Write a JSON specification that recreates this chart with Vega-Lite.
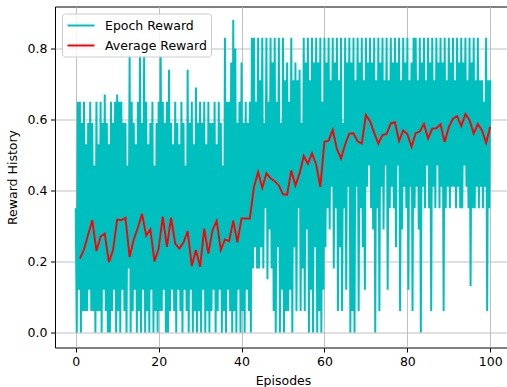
{
"$schema":"https://vega.github.io/schema/vega-lite/v6.json",
"width":456,"height":341,
"autosize":{"type":"none"},
"padding":{"left":55,"top":6.5,"right":0,"bottom":40},
"background":"white",
"config":{
"font":"DejaVu Sans",
"view":{"stroke":"black","strokeWidth":1},
"axis":{"domain":false,"grid":true,"gridColor":"#b0b0b0","gridWidth":0.8,"tickColor":"black","tickSize":4.5,"tickWidth":1,"labelFontSize":12.5,"labelColor":"black","titleFontSize":12.5,"titleFontWeight":"normal","titleColor":"black","labelPadding":3.5},
"legend":{"orient":"top-left","offset":7,"fillColor":"rgba(255,255,255,0.8)","strokeColor":"#cccccc","cornerRadius":3,"padding":4,"symbolType":"M-2,0H2","symbolSize":182,"symbolStrokeWidth":2,"symbolOffset":7,"labelFontSize":12.5,"labelColor":"black","labelOffset":16,"rowPadding":5}
},
"datasets":{
"epoch":[
{"x":0,"y":0.35},{"x":0.25,"y":0},{"x":0.5,"y":0.65},{"x":0.75,"y":0.12},
{"x":1,"y":0.65},{"x":1.25,"y":0},{"x":1.5,"y":0.59},{"x":1.75,"y":0.06},
{"x":2,"y":0.65},{"x":2.25,"y":0.06},{"x":2.5,"y":0.53},{"x":2.75,"y":0.06},
{"x":3,"y":0.59},{"x":3.25,"y":0.12},{"x":3.5,"y":0.65},{"x":3.75,"y":0.06},
{"x":4,"y":0.59},{"x":4.25,"y":0.06},{"x":4.5,"y":0.47},{"x":4.75,"y":0},
{"x":5,"y":0.65},{"x":5.25,"y":0.06},{"x":5.5,"y":0.53},{"x":5.75,"y":0.06},
{"x":6,"y":0.65},{"x":6.25,"y":0},{"x":6.5,"y":0.59},{"x":6.75,"y":0.12},
{"x":7,"y":0.67},{"x":7.25,"y":0.06},{"x":7.5,"y":0.59},{"x":7.75,"y":0},
{"x":8,"y":0.53},{"x":8.25,"y":0},{"x":8.5,"y":0.65},{"x":8.75,"y":0.06},
{"x":9,"y":0.59},{"x":9.25,"y":0.12},{"x":9.5,"y":0.65},{"x":9.75,"y":0},
{"x":10,"y":0.67},{"x":10.25,"y":0.06},{"x":10.5,"y":0.65},{"x":10.75,"y":0},
{"x":11,"y":0.65},{"x":11.25,"y":0.12},{"x":11.5,"y":0.59},{"x":11.75,"y":0.06},
{"x":12,"y":0.59},{"x":12.25,"y":0},{"x":12.5,"y":0.47},{"x":12.75,"y":0.18},
{"x":13,"y":0.78},{"x":13.25,"y":0},{"x":13.5,"y":0.65},{"x":13.75,"y":0.06},
{"x":14,"y":0.59},{"x":14.25,"y":0.12},{"x":14.5,"y":0.53},{"x":14.75,"y":0},
{"x":15,"y":0.65},{"x":15.25,"y":0.06},{"x":15.5,"y":0.78},{"x":15.75,"y":0},
{"x":16,"y":0.59},{"x":16.25,"y":0.12},{"x":16.5,"y":0.78},{"x":16.75,"y":0},
{"x":17,"y":0.65},{"x":17.25,"y":0.06},{"x":17.5,"y":0.53},{"x":17.75,"y":0},
{"x":18,"y":0.59},{"x":18.25,"y":0.12},{"x":18.5,"y":0.65},{"x":18.75,"y":0},
{"x":19,"y":0.47},{"x":19.25,"y":0.06},{"x":19.5,"y":0.59},{"x":19.75,"y":0},
{"x":20,"y":0.65},{"x":20.25,"y":0.06},{"x":20.5,"y":0.78},{"x":20.75,"y":0.06},
{"x":21,"y":0.65},{"x":21.25,"y":0.12},{"x":21.5,"y":0.59},{"x":21.75,"y":0},
{"x":22,"y":0.65},{"x":22.25,"y":0},{"x":22.5,"y":0.74},{"x":22.75,"y":0.06},
{"x":23,"y":0.59},{"x":23.25,"y":0.12},{"x":23.5,"y":0.53},{"x":23.75,"y":0.06},
{"x":24,"y":0.65},{"x":24.25,"y":0},{"x":24.5,"y":0.59},{"x":24.75,"y":0.12},
{"x":25,"y":0.53},{"x":25.25,"y":0.06},{"x":25.5,"y":0.65},{"x":25.75,"y":0},
{"x":26,"y":0.59},{"x":26.25,"y":0.12},{"x":26.5,"y":0.47},{"x":26.75,"y":0.06},
{"x":27,"y":0.74},{"x":27.25,"y":0},{"x":27.5,"y":0.59},{"x":27.75,"y":0.12},
{"x":28,"y":0.65},{"x":28.25,"y":0},{"x":28.5,"y":0.53},{"x":28.75,"y":0.06},
{"x":29,"y":0.69},{"x":29.25,"y":0},{"x":29.5,"y":0.59},{"x":29.75,"y":0.06},
{"x":30,"y":0.65},{"x":30.25,"y":0},{"x":30.5,"y":0.59},{"x":30.75,"y":0.12},
{"x":31,"y":0.65},{"x":31.25,"y":0},{"x":31.5,"y":0.53},{"x":31.75,"y":0.06},
{"x":32,"y":0.65},{"x":32.25,"y":0},{"x":32.5,"y":0.59},{"x":32.75,"y":0.06},
{"x":33,"y":0.59},{"x":33.25,"y":0.12},{"x":33.5,"y":0.65},{"x":33.75,"y":0},
{"x":34,"y":0.53},{"x":34.25,"y":0.06},{"x":34.5,"y":0.65},{"x":34.75,"y":0.12},
{"x":35,"y":0.59},{"x":35.25,"y":0},{"x":35.5,"y":0.47},{"x":35.75,"y":0.06},
{"x":36,"y":0.83},{"x":36.25,"y":0},{"x":36.5,"y":0.65},{"x":36.75,"y":0.12},
{"x":37,"y":0.65},{"x":37.25,"y":0.06},{"x":37.5,"y":0.76},{"x":37.75,"y":0},
{"x":38,"y":0.88},{"x":38.25,"y":0.06},{"x":38.5,"y":0.8},{"x":38.75,"y":0},
{"x":39,"y":0.59},{"x":39.25,"y":0.12},{"x":39.5,"y":0.65},{"x":39.75,"y":0},
{"x":40,"y":0.76},{"x":40.25,"y":0.06},{"x":40.5,"y":0.59},{"x":40.75,"y":0},
{"x":41,"y":0.65},{"x":41.25,"y":0.12},{"x":41.5,"y":0.59},{"x":41.75,"y":0.06},
{"x":42,"y":0.65},{"x":42.25,"y":0},{"x":42.5,"y":0.83},{"x":42.75,"y":0.18},
{"x":43,"y":0.83},{"x":43.25,"y":0.24},{"x":43.5,"y":0.65},{"x":43.75,"y":0.18},
{"x":44,"y":0.83},{"x":44.25,"y":0.18},{"x":44.5,"y":0.71},{"x":44.75,"y":0.24},
{"x":45,"y":0.83},{"x":45.25,"y":0.18},{"x":45.5,"y":0.59},{"x":45.75,"y":0.35},
{"x":46,"y":0.83},{"x":46.25,"y":0.15},{"x":46.5,"y":0.65},{"x":46.75,"y":0.29},
{"x":47,"y":0.83},{"x":47.25,"y":0.18},{"x":47.5,"y":0.76},{"x":47.75,"y":0.06},
{"x":48,"y":0.83},{"x":48.25,"y":0},{"x":48.5,"y":0.65},{"x":48.75,"y":0.24},
{"x":49,"y":0.83},{"x":49.25,"y":0},{"x":49.5,"y":0.59},{"x":49.75,"y":0.12},
{"x":50,"y":0.83},{"x":50.25,"y":0},{"x":50.5,"y":0.71},{"x":50.75,"y":0.06},
{"x":51,"y":0.76},{"x":51.25,"y":0.06},{"x":51.5,"y":0.65},{"x":51.75,"y":0.12},
{"x":52,"y":0.83},{"x":52.25,"y":0},{"x":52.5,"y":0.71},{"x":52.75,"y":0.24},
{"x":53,"y":0.76},{"x":53.25,"y":0.06},{"x":53.5,"y":0.71},{"x":53.75,"y":0.35},
{"x":54,"y":0.74},{"x":54.25,"y":0.06},{"x":54.5,"y":0.59},{"x":54.75,"y":0.18},
{"x":55,"y":0.83},{"x":55.25,"y":0.06},{"x":55.5,"y":0.76},{"x":55.75,"y":0.29},
{"x":56,"y":0.83},{"x":56.25,"y":0},{"x":56.5,"y":0.71},{"x":56.75,"y":0.12},
{"x":57,"y":0.83},{"x":57.25,"y":0},{"x":57.5,"y":0.76},{"x":57.75,"y":0.24},
{"x":58,"y":0.83},{"x":58.25,"y":0},{"x":58.5,"y":0.76},{"x":58.75,"y":0.06},
{"x":59,"y":0.83},{"x":59.25,"y":0},{"x":59.5,"y":0.65},{"x":59.75,"y":0.12},
{"x":60,"y":0.83},{"x":60.25,"y":0.24},{"x":60.5,"y":0.76},{"x":60.75,"y":0.35},
{"x":61,"y":0.83},{"x":61.25,"y":0.29},{"x":61.5,"y":0.71},{"x":61.75,"y":0.41},
{"x":62,"y":0.83},{"x":62.25,"y":0.18},{"x":62.5,"y":0.76},{"x":62.75,"y":0.35},
{"x":63,"y":0.83},{"x":63.25,"y":0.06},{"x":63.5,"y":0.71},{"x":63.75,"y":0.24},
{"x":64,"y":0.83},{"x":64.25,"y":0.06},{"x":64.5,"y":0.59},{"x":64.75,"y":0.35},
{"x":65,"y":0.83},{"x":65.25,"y":0.12},{"x":65.5,"y":0.76},{"x":65.75,"y":0.41},
{"x":66,"y":0.83},{"x":66.25,"y":0},{"x":66.5,"y":0.76},{"x":66.75,"y":0.06},
{"x":67,"y":0.83},{"x":67.25,"y":0},{"x":67.5,"y":0.71},{"x":67.75,"y":0.41},
{"x":68,"y":0.83},{"x":68.25,"y":0.06},{"x":68.5,"y":0.76},{"x":68.75,"y":0.35},
{"x":69,"y":0.83},{"x":69.25,"y":0.24},{"x":69.5,"y":0.71},{"x":69.75,"y":0.12},
{"x":70,"y":0.83},{"x":70.25,"y":0.41},{"x":70.5,"y":0.76},{"x":70.75,"y":0.47},
{"x":71,"y":0.83},{"x":71.25,"y":0.35},{"x":71.5,"y":0.76},{"x":71.75,"y":0.29},
{"x":72,"y":0.83},{"x":72.25,"y":0},{"x":72.5,"y":0.71},{"x":72.75,"y":0.35},
{"x":73,"y":0.83},{"x":73.25,"y":0.06},{"x":73.5,"y":0.76},{"x":73.75,"y":0.41},
{"x":74,"y":0.83},{"x":74.25,"y":0.29},{"x":74.5,"y":0.71},{"x":74.75,"y":0.47},
{"x":75,"y":0.83},{"x":75.25,"y":0.12},{"x":75.5,"y":0.71},{"x":75.75,"y":0.35},
{"x":76,"y":0.83},{"x":76.25,"y":0.41},{"x":76.5,"y":0.76},{"x":76.75,"y":0.35},
{"x":77,"y":0.83},{"x":77.25,"y":0.24},{"x":77.5,"y":0.76},{"x":77.75,"y":0.47},
{"x":78,"y":0.83},{"x":78.25,"y":0.06},{"x":78.5,"y":0.71},{"x":78.75,"y":0.29},
{"x":79,"y":0.83},{"x":79.25,"y":0.41},{"x":79.5,"y":0.76},{"x":79.75,"y":0.35},
{"x":80,"y":0.83},{"x":80.25,"y":0.12},{"x":80.5,"y":0.71},{"x":80.75,"y":0.41},
{"x":81,"y":0.76},{"x":81.25,"y":0.06},{"x":81.5,"y":0.83},{"x":81.75,"y":0.35},
{"x":82,"y":0.83},{"x":82.25,"y":0.41},{"x":82.5,"y":0.71},{"x":82.75,"y":0.29},
{"x":83,"y":0.83},{"x":83.25,"y":0},{"x":83.5,"y":0.76},{"x":83.75,"y":0.41},
{"x":84,"y":0.83},{"x":84.25,"y":0.35},{"x":84.5,"y":0.71},{"x":84.75,"y":0.47},
{"x":85,"y":0.83},{"x":85.25,"y":0.35},{"x":85.5,"y":0.76},{"x":85.75,"y":0.06},
{"x":86,"y":0.83},{"x":86.25,"y":0.41},{"x":86.5,"y":0.71},{"x":86.75,"y":0.35},
{"x":87,"y":0.83},{"x":87.25,"y":0.47},{"x":87.5,"y":0.76},{"x":87.75,"y":0.35},
{"x":88,"y":0.83},{"x":88.25,"y":0.41},{"x":88.5,"y":0.76},{"x":88.75,"y":0.06},
{"x":89,"y":0.83},{"x":89.25,"y":0.35},{"x":89.5,"y":0.71},{"x":89.75,"y":0.41},
{"x":90,"y":0.83},{"x":90.25,"y":0.35},{"x":90.5,"y":0.76},{"x":90.75,"y":0.41},
{"x":91,"y":0.83},{"x":91.25,"y":0.41},{"x":91.5,"y":0.71},{"x":91.75,"y":0.35},
{"x":92,"y":0.83},{"x":92.25,"y":0.41},{"x":92.5,"y":0.76},{"x":92.75,"y":0.35},
{"x":93,"y":0.83},{"x":93.25,"y":0.35},{"x":93.5,"y":0.76},{"x":93.75,"y":0.47},
{"x":94,"y":0.83},{"x":94.25,"y":0.41},{"x":94.5,"y":0.71},{"x":94.75,"y":0.35},
{"x":95,"y":0.83},{"x":95.25,"y":0.13},{"x":95.5,"y":0.76},{"x":95.75,"y":0.35},
{"x":96,"y":0.83},{"x":96.25,"y":0.35},{"x":96.5,"y":0.71},{"x":96.75,"y":0.41},
{"x":97,"y":0.83},{"x":97.25,"y":0.35},{"x":97.5,"y":0.71},{"x":97.75,"y":0.41},
{"x":98,"y":0.71},{"x":98.25,"y":0.35},{"x":98.5,"y":0.65},{"x":98.75,"y":0.41},
{"x":99,"y":0.83},{"x":99.25,"y":0.06},{"x":99.5,"y":0.71},{"x":99.75,"y":0.35},
{"x":100,"y":0.71}
],
"avg":[
{"x":1,"y":0.208},{"x":2,"y":0.234},{"x":3,"y":0.276},{"x":4,"y":0.316},{"x":5,"y":0.229},
{"x":6,"y":0.27},{"x":7,"y":0.278},{"x":8,"y":0.198},{"x":9,"y":0.232},{"x":10,"y":0.318},
{"x":11,"y":0.316},{"x":12,"y":0.323},{"x":13,"y":0.212},{"x":14,"y":0.262},{"x":15,"y":0.295},
{"x":16,"y":0.334},{"x":17,"y":0.273},{"x":18,"y":0.29},{"x":19,"y":0.2},{"x":20,"y":0.236},
{"x":21,"y":0.326},{"x":22,"y":0.241},{"x":23,"y":0.323},{"x":24,"y":0.25},{"x":25,"y":0.236},
{"x":26,"y":0.253},{"x":27,"y":0.285},{"x":28,"y":0.187},{"x":29,"y":0.232},{"x":30,"y":0.185},
{"x":31,"y":0.292},{"x":32,"y":0.222},{"x":33,"y":0.288},{"x":34,"y":0.314},{"x":35,"y":0.232},
{"x":36,"y":0.262},{"x":37,"y":0.257},{"x":38,"y":0.315},{"x":39,"y":0.254},{"x":40,"y":0.321},
{"x":41,"y":0.321},{"x":42,"y":0.321},{"x":43,"y":0.41},{"x":44,"y":0.452},{"x":45,"y":0.407},
{"x":46,"y":0.448},{"x":47,"y":0.434},{"x":48,"y":0.426},{"x":49,"y":0.414},{"x":50,"y":0.389},
{"x":51,"y":0.388},{"x":52,"y":0.456},{"x":53,"y":0.414},{"x":54,"y":0.448},{"x":55,"y":0.497},
{"x":56,"y":0.475},{"x":57,"y":0.504},{"x":58,"y":0.473},{"x":59,"y":0.41},{"x":60,"y":0.537},
{"x":61,"y":0.54},{"x":62,"y":0.57},{"x":63,"y":0.517},{"x":64,"y":0.49},{"x":65,"y":0.53},
{"x":66,"y":0.56},{"x":67,"y":0.561},{"x":68,"y":0.538},{"x":69,"y":0.532},{"x":70,"y":0.612},
{"x":71,"y":0.595},{"x":72,"y":0.562},{"x":73,"y":0.532},{"x":74,"y":0.556},{"x":75,"y":0.559},
{"x":76,"y":0.589},{"x":77,"y":0.592},{"x":78,"y":0.539},{"x":79,"y":0.569},{"x":80,"y":0.559},
{"x":81,"y":0.523},{"x":82,"y":0.561},{"x":83,"y":0.566},{"x":84,"y":0.587},{"x":85,"y":0.546},
{"x":86,"y":0.574},{"x":87,"y":0.575},{"x":88,"y":0.586},{"x":89,"y":0.536},{"x":90,"y":0.578},
{"x":91,"y":0.602},{"x":92,"y":0.609},{"x":93,"y":0.581},{"x":94,"y":0.615},{"x":95,"y":0.598},
{"x":96,"y":0.56},{"x":97,"y":0.587},{"x":98,"y":0.569},{"x":99,"y":0.534},{"x":100,"y":0.579}
]
},
"encoding":{
"x":{"field":"x","type":"quantitative","scale":{"domain":[-5,105],"nice":false,"zero":false},"axis":{"values":[0,20,40,60,80,100],"format":"d","title":"Episodes","titlePadding":6}},
"y":{"field":"y","type":"quantitative","scale":{"domain":[-0.0425,0.918],"nice":false,"zero":false},"axis":{"values":[0,0.2,0.4,0.6,0.8],"format":".1f","title":"Reward History","titlePadding":8}}
},
"layer":[
{"data":{"name":"epoch"},"mark":{"type":"line","strokeWidth":2,"clip":true},
"encoding":{"color":{"datum":"Epoch Reward","type":"nominal","scale":{"domain":["Epoch Reward","Average Reward"],"range":["#00BFBF","#FF0000"]},"legend":{"title":null}}}},
{"data":{"name":"avg"},"mark":{"type":"line","strokeWidth":1.9,"clip":true},
"encoding":{"color":{"datum":"Average Reward","type":"nominal"}}}
]
}
